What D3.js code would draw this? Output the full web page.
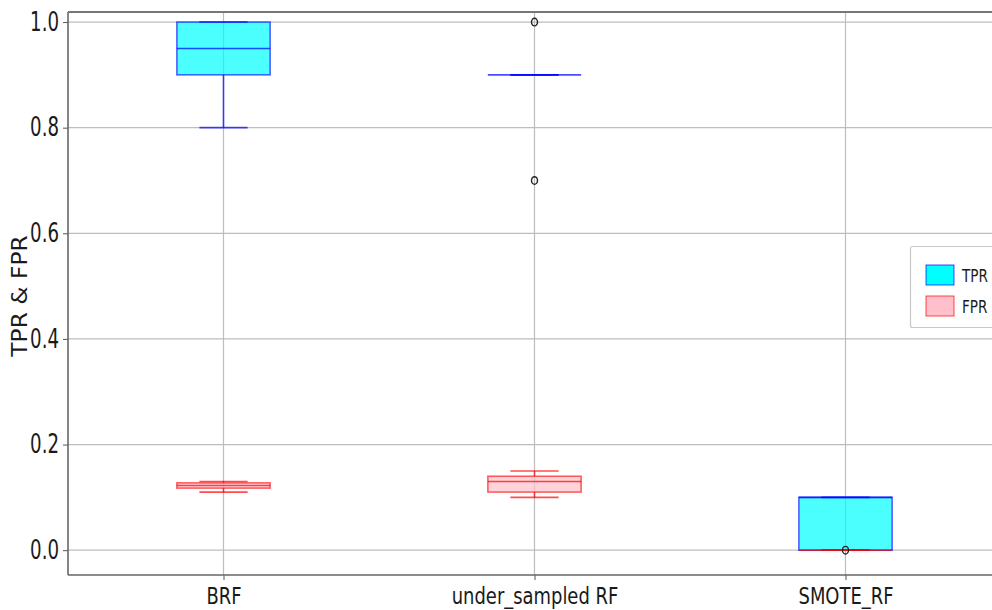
<!DOCTYPE html>
<html>
<head>
<meta charset="utf-8">
<script src="https://cdn.jsdelivr.net/npm/d3@7"></script>
<style>
  html, body { margin: 0; padding: 0; background: #fff; }
  svg { display: block; font-family: "DejaVu Sans", sans-serif; }
</style>
</head>
<body>
<svg id="chart" width="992" height="610"></svg>
<script>
// Classifiers compared
const categories = ["BRF", "under_sampled RF", "SMOTE_RF"];

// TPR box statistics: [whisker low, Q1, median, Q3, whisker high]
const tprStats = [
  [0.80, 0.90, 0.95, 1.00, 1.00],
  [0.90, 0.90, 0.90, 0.90, 0.90],
  [0.00, 0.00, 0.10, 0.10, 0.10]
];
const tprOutliers = [[], [1.0, 0.7], []];

// FPR box statistics: [whisker low, Q1, median, Q3, whisker high]
const fprStats = [
  [0.11, 0.1175, 0.1225, 0.1275, 0.13],
  [0.10, 0.11, 0.13, 0.14, 0.15],
  [0.00, 0.00, 0.00, 0.00, 0.00]
];
const fprOutliers = [[], [], [0.0]];

const yTicks = [0.0, 0.2, 0.4, 0.6, 0.8, 1.0];
const legendLabels = ["TPR", "FPR"];

const svg = d3.select("#chart");
const plotL = 68, plotT = 12, plotB = 575, plotR = 1001;

const x = d3.scalePoint().domain(categories).range([plotL, plotR]).padding(0.5);
const y = d3.scaleLinear().domain([-0.047, 1.019]).range([plotB, plotT]);
const step = x.step();
const boxW = step * 0.3, capW = step * 0.155;

// grid
const grid = svg.append("g").attr("stroke", "#bdbdbd").attr("stroke-width", 1.2);
yTicks.forEach(t => grid.append("line")
  .attr("x1", plotL).attr("x2", 992).attr("y1", y(t)).attr("y2", y(t)));
categories.forEach(c => grid.append("line")
  .attr("x1", x(c)).attr("x2", x(c)).attr("y1", plotT).attr("y2", plotB));

// axes (labels are drawn narrow: horizontally condensed glyphs)
const ySx = 0.7;
const yAxis = d3.axisLeft(y).tickValues(yTicks).tickFormat(d3.format(".1f")).tickSize(5).tickPadding(4);
const gy = svg.append("g").attr("transform", `translate(${plotL},0)`).call(yAxis);
gy.select(".domain").remove();
gy.selectAll("line").attr("stroke", "#555");
gy.selectAll("text").attr("font-size", 26).attr("fill", "#1a1a1a").attr("font-family", "DejaVu Sans")
  .attr("x", -9 / ySx).attr("transform", `scale(${ySx},1)`);

const xSx = 0.78;
const xAxis = d3.axisBottom(x).tickSize(5).tickPadding(8);
const gx = svg.append("g").attr("transform", `translate(0,${plotB})`).call(xAxis);
gx.select(".domain").remove();
gx.selectAll("line").attr("stroke", "#555");
gx.selectAll("text").attr("font-size", 23).attr("fill", "#1a1a1a").attr("font-family", "DejaVu Sans")
  .attr("transform", `scale(${xSx},1)`);

// spines
svg.append("line").attr("x1", plotL).attr("x2", plotL).attr("y1", plotT).attr("y2", plotB)
  .attr("stroke", "#666").attr("stroke-width", 1.6);
svg.append("line").attr("x1", plotL).attr("x2", 992).attr("y1", plotB).attr("y2", plotB)
  .attr("stroke", "#666").attr("stroke-width", 1.6);
svg.append("line").attr("x1", plotL).attr("x2", 992).attr("y1", plotT).attr("y2", plotT)
  .attr("stroke", "#777").attr("stroke-width", 2);

// y label
svg.append("text").attr("transform", "translate(27,296) rotate(-90) scale(1.14,1)")
  .attr("text-anchor", "middle").attr("font-size", 20.5).attr("fill", "#1a1a1a")
  .text("TPR & FPR");

function drawBoxes(stats, outliers, fill, stroke) {
  const g = svg.append("g");
  stats.forEach((s, i) => {
    const cx = x(categories[i]);
    const [lo, q1, med, q3, hi] = s;
    const line = (x1, x2, y1, y2) => g.append("line")
      .attr("x1", x1).attr("x2", x2).attr("y1", y1).attr("y2", y2)
      .attr("stroke", stroke).attr("stroke-opacity", 0.7).attr("stroke-width", 1.6);
    // whiskers
    line(cx, cx, y(q1), y(lo));
    line(cx, cx, y(q3), y(hi));
    // box
    g.append("rect").attr("x", cx - boxW / 2).attr("width", boxW)
      .attr("y", y(q3)).attr("height", Math.max(0, y(q1) - y(q3)))
      .attr("fill", fill).attr("fill-opacity", 0.7)
      .attr("stroke", stroke).attr("stroke-opacity", 0.6).attr("stroke-width", 1.6);
    // caps
    line(cx - capW / 2, cx + capW / 2, y(lo), y(lo));
    line(cx - capW / 2, cx + capW / 2, y(hi), y(hi));
    // median
    line(cx - boxW / 2, cx + boxW / 2, y(med), y(med));
    // outliers
    outliers[i].forEach(v => g.append("ellipse")
      .attr("cx", cx).attr("cy", y(v)).attr("rx", 3).attr("ry", 3.8)
      .attr("fill", "none").attr("stroke", "#222").attr("stroke-width", 1.4));
  });
}
drawBoxes(tprStats, tprOutliers, "#00ffff", "#0000ff");
drawBoxes(fprStats, fprOutliers, "#ffc0cb", "#ff0000");

// legend
const lg = svg.append("g");
lg.append("rect").attr("x", 910.5).attr("y", 246.5).attr("width", 100).attr("height", 81)
  .attr("fill", "#fff").attr("stroke", "#c8c8c8").attr("stroke-width", 1.2).attr("rx", 2);
const legendStyles = [["#00ffff", "#0000ff"], ["#ffc0cb", "#ff0000"]];
legendLabels.forEach((lab, i) => {
  const yy = 265 + i * 31;
  lg.append("rect").attr("x", 926).attr("y", yy).attr("width", 28).attr("height", 20)
    .attr("fill", legendStyles[i][0]).attr("stroke", legendStyles[i][1]).attr("stroke-opacity", 0.7);
  lg.append("text").attr("transform", `translate(962,${yy + 17}) scale(0.8,1)`)
    .attr("font-size", 17).attr("fill", "#1a1a1a").text(lab);
});
</script>
</body>
</html>
